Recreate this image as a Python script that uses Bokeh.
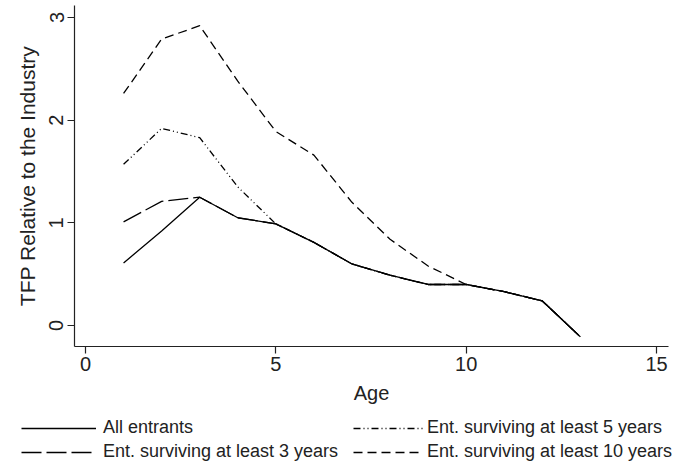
from bokeh.plotting import figure
from bokeh.models import Range1d, Legend, LegendItem, FixedTicker
from bokeh.layouts import column
from bokeh.embed import file_html
from bokeh.resources import INLINE

age = [1, 2, 3, 4, 5, 6, 7, 8, 9, 10, 11, 12, 13]
all_entrants = [0.61, 0.92, 1.25, 1.05, 0.99, 0.81, 0.60, 0.49, 0.40, 0.40, 0.33, 0.24, -0.11]
surv3 = [1.01, 1.21, 1.25, 1.05, 0.99, 0.81, 0.60, 0.49, 0.40, 0.40, 0.33, 0.24, -0.11]
surv5 = [1.57, 1.92, 1.83, 1.35, 0.99, 0.81, 0.60, 0.49, 0.40, 0.40, 0.33, 0.24, -0.11]
surv10 = [2.26, 2.79, 2.92, 2.38, 1.89, 1.66, 1.20, 0.84, 0.58, 0.40, 0.33, 0.24, -0.11]

x_ticks = [0, 5, 10, 15]
y_ticks = [0, 1, 2, 3]

series_labels = ["All entrants", "Ent. surviving at least 3 years",
                 "Ent. surviving at least 5 years", "Ent. surviving at least 10 years"]

FONT = "Liberation Sans"
TXT = "#222222"
DASH_A, DASH_3, DASH_5, DASH_10 = "solid", "20 5", "7 3 1 3 1 3", "9 5"

p = figure(width=676, height=408, output_backend="svg", toolbar_location=None,
           x_range=Range1d(-0.289, 15.315), y_range=Range1d(-0.204, 3.117),
           min_border_left=74, min_border_right=8, min_border_top=5, min_border_bottom=62)
p.frame_align = False
p.outline_line_color = None
p.xgrid.visible = False
p.ygrid.visible = False

p.line(age, surv3, line_color="black", line_width=1.3, line_dash=DASH_3)
p.line(age, surv5, line_color="black", line_width=1.3, line_dash=DASH_5)
p.line(age, surv10, line_color="black", line_width=1.3, line_dash=DASH_10)
p.line(age, all_entrants, line_color="black", line_width=1.3)

for ax in (p.xaxis[0], p.yaxis[0]):
    ax.axis_line_color = TXT
    ax.axis_line_width = 1.2
    ax.major_tick_line_color = TXT
    ax.major_tick_line_width = 1.2
    ax.major_tick_out = 7
    ax.major_tick_in = 0
    ax.minor_tick_line_color = None
    ax.major_label_text_font = FONT
    ax.major_label_text_font_size = "20px"
    ax.major_label_text_color = TXT
    ax.axis_label_text_font = FONT
    ax.axis_label_text_font_style = "normal"
    ax.axis_label_text_color = TXT

p.xaxis.ticker = FixedTicker(ticks=x_ticks)
p.yaxis.ticker = FixedTicker(ticks=y_ticks)
p.xaxis.axis_label = "Age"
p.yaxis.axis_label = "TFP Relative to the Industry"
p.xaxis.axis_label_text_font_size = "20px"
p.yaxis.axis_label_text_font_size = "21px"
p.xaxis.major_label_standoff = 3
p.xaxis.axis_label_standoff = 8
p.yaxis.major_label_standoff = 4
p.yaxis.major_label_orientation = "vertical"
p.yaxis.axis_label_standoff = 8

# legend strip below the plot (key lines sit outside its visible range)
p2 = figure(width=676, height=55, output_backend="svg", toolbar_location=None,
            x_range=Range1d(0, 1), y_range=Range1d(0, 1),
            x_axis_type=None, y_axis_type=None, min_border=0)
p2.frame_align = False
p2.outline_line_color = None
p2.xgrid.visible = False
p2.ygrid.visible = False
off_x, off_y = [-5, -4], [-5, -5]
la = p2.line(off_x, off_y, line_color="black", line_width=1.3)
l3 = p2.line(off_x, off_y, line_color="black", line_width=1.3, line_dash=DASH_3)
l5 = p2.line(off_x, off_y, line_color="black", line_width=1.3, line_dash=DASH_5)
l10 = p2.line(off_x, off_y, line_color="black", line_width=1.3, line_dash=DASH_10)

def make_legend(items, loc, gw, standoff):
    return Legend(items=items, location=loc, orientation="vertical",
                  glyph_width=gw, glyph_height=20, label_height=20, spacing=3,
                  label_standoff=standoff, padding=0, margin=0,
                  border_line_alpha=0, background_fill_alpha=0,
                  label_text_font=FONT, label_text_font_size="18px",
                  label_text_color=TXT)

leg1 = make_legend([LegendItem(label=series_labels[0], renderers=[la]),
                    LegendItem(label=series_labels[1], renderers=[l3])], (21, 1), 75, 7)
leg2 = make_legend([LegendItem(label=series_labels[2], renderers=[l5]),
                    LegendItem(label=series_labels[3], renderers=[l10])], (353, 1), 70, 4)
p2.add_layout(leg1, "center")
p2.add_layout(leg2, "center")

layout = column(p, p2, spacing=0)
open("out.html", "w").write(file_html(layout, INLINE))
